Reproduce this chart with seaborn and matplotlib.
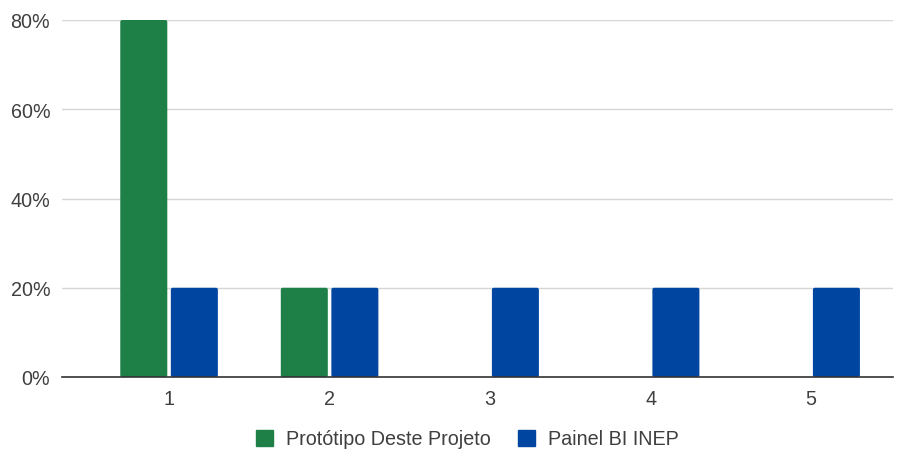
import matplotlib
matplotlib.use("Agg")
import matplotlib.pyplot as plt
from matplotlib.patches import Patch, FancyBboxPatch
from matplotlib.ticker import PercentFormatter
import seaborn as sns
import pandas as pd

categories = ["1", "2", "3", "4", "5"]
series_names = ["Protótipo Deste Projeto", "Painel BI INEP"]
prototipo = [0.80, 0.20, 0.0, 0.0, 0.0]
painel_bi = [0.20, 0.20, 0.20, 0.20, 0.20]
colors = ["#1f8047", "#0046a1"]
y_ticks = [0.0, 0.2, 0.4, 0.6, 0.8]

df = pd.DataFrame({
    "categoria": categories * 2,
    "serie": [series_names[0]] * len(categories) + [series_names[1]] * len(categories),
    "valor": prototipo + painel_bi,
})

sns.set_theme(style="white")
plt.rcParams["font.family"] = ["Liberation Sans", "DejaVu Sans"]
text_color = "#3f3f3f"
font_size = 14.2

fig = plt.figure(figsize=(9.09, 4.52), dpi=100)
ax = fig.add_axes([62 / 909, 74 / 452, (893 - 62) / 909, (378 - 21) / 452])

sns.barplot(data=df, x="categoria", y="valor", hue="serie", order=categories,
            hue_order=series_names, palette=colors, width=0.63, gap=0.07,
            saturation=1, legend=False, ax=ax, linewidth=0)

# Soften the bar corners slightly
for bar in list(ax.patches):
    h = bar.get_height()
    if h <= 0:
        continue
    x, y, w = bar.get_x(), bar.get_y(), bar.get_width()
    fb = FancyBboxPatch((x, y), w, h, boxstyle="round,pad=0,rounding_size=0.012",
                        mutation_aspect=0.8 / 5.2 * (831 / 357),
                        facecolor=bar.get_facecolor(), edgecolor="none", zorder=bar.get_zorder())
    bar.set_visible(False)
    ax.add_patch(fb)

ax.set_xlim(-0.667, 4.51)
ax.set_ylim(0, 0.8)
ax.set_yticks(y_ticks)
ax.yaxis.set_major_formatter(PercentFormatter(1.0, decimals=0))
ax.grid(axis="y", color="#d6d6d6", linewidth=1)
ax.set_axisbelow(True)
for s in ["top", "right", "left"]:
    ax.spines[s].set_visible(False)
ax.spines["bottom"].set_color("#333333")
ax.spines["bottom"].set_linewidth(1.2)
ax.spines["bottom"].set_zorder(5)
ax.tick_params(axis="both", length=0, labelsize=font_size, labelcolor=text_color)
ax.tick_params(axis="y", pad=8.5)
ax.tick_params(axis="x", pad=9)
ax.set_xlabel("")
ax.set_ylabel("")

handles = [Patch(facecolor=c, edgecolor=c) for c in colors]
fig.legend(handles, series_names, loc="center", bbox_to_anchor=(0.514, 1 - 440 / 452),
           ncol=2, frameon=False, fontsize=font_size, labelcolor=text_color,
           handlelength=0.85, handleheight=0.85, handletextpad=0.65, columnspacing=1.4)

fig.savefig("out.png", dpi=100)
